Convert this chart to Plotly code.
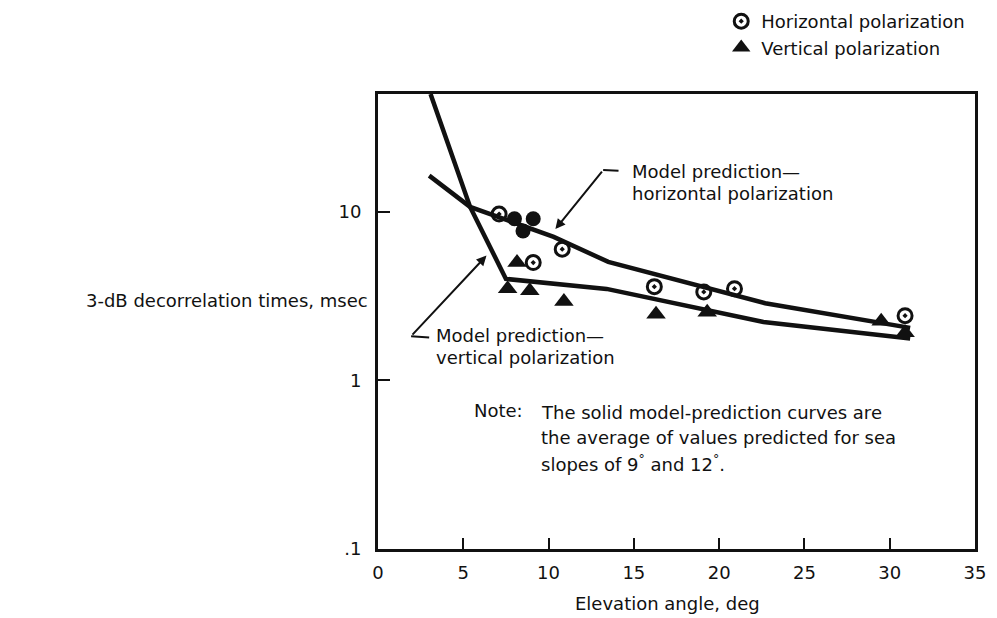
import math
import plotly.graph_objects as go

# ---------------- data ----------------
horiz_x = [7.1, 9.1, 10.8, 16.2, 19.1, 20.9, 30.9]
horiz_y = [9.7, 5.0, 6.0, 3.6, 3.35, 3.5, 2.42]
cluster_x = [8.0, 8.5, 9.1]          # overlapping horizontal-polarization points
cluster_y = [9.1, 7.7, 9.1]
vert_x = [8.15, 7.6, 8.9, 10.9, 16.3, 19.3, 29.5, 30.9]
vert_y = [5.0, 3.5, 3.4, 2.94, 2.47, 2.54, 2.24, 1.92]
model_h_x = [3.0, 5.4, 10.3, 13.5, 22.7, 31.2]
model_h_y = [16.4, 10.7, 7.1, 5.05, 2.87, 2.05]
model_v_x = [3.08, 5.4, 7.5, 13.4, 22.6, 31.2]
model_v_y = [50, 10.7, 4.0, 3.49, 2.22, 1.77]
x_tick_vals = [0, 5, 10, 15, 20, 25, 30, 35]
y_tick_vals = [0.1, 1, 10]
y_tick_text = [".1", "1", "10"]

INK = "#111111"
FONT = "DejaVu Sans"
FS = 18

fig = go.Figure()

# model curves
fig.add_trace(go.Scatter(x=model_h_x, y=model_h_y, mode="lines",
                         line=dict(color=INK, width=4.5), showlegend=False, hoverinfo="skip"))
fig.add_trace(go.Scatter(x=model_v_x, y=model_v_y, mode="lines",
                         line=dict(color=INK, width=4.5), showlegend=False, hoverinfo="skip"))

# measured points
fig.add_trace(go.Scatter(x=horiz_x, y=horiz_y, mode="markers", name="Horizontal polarization",
                         marker=dict(symbol="circle-open-dot", size=14, color=INK,
                                     line=dict(width=3, color=INK))))
fig.add_trace(go.Scatter(x=vert_x, y=vert_y, mode="markers", name="Vertical polarization",
                         marker=dict(symbol="triangle-up", size=17, color=INK)))
fig.add_trace(go.Scatter(x=cluster_x, y=cluster_y, mode="markers", showlegend=False,
                         marker=dict(symbol="circle", size=15, color=INK)))

# leader lines for callouts
fig.add_trace(go.Scatter(x=[13.2, 14.1], y=[17.7, 17.5], mode="lines",
                         line=dict(color=INK, width=2), showlegend=False, hoverinfo="skip"))
fig.add_trace(go.Scatter(x=[1.94, 3.0], y=[1.83, 1.80], mode="lines",
                         line=dict(color=INK, width=2), showlegend=False, hoverinfo="skip"))

L = math.log10
annotations = [
    # arrows
    dict(x=10.4, y=L(7.9), ax=13.2, ay=L(17.7), axref="x", ayref="y", xref="x", yref="y",
         text="", showarrow=True, arrowhead=2, arrowsize=1, arrowwidth=2, arrowcolor=INK),
    dict(x=6.36, y=L(5.5), ax=1.94, ay=L(1.83), axref="x", ayref="y", xref="x", yref="y",
         text="", showarrow=True, arrowhead=2, arrowsize=1, arrowwidth=2, arrowcolor=INK),
    # callout texts
    dict(x=14.8, y=1.24, xref="x", yref="y", text="Model prediction\u2014",
         xanchor="left", yanchor="middle", showarrow=False),
    dict(x=14.8, y=1.11, xref="x", yref="y", text="horizontal polarization",
         xanchor="left", yanchor="middle", showarrow=False),
    dict(x=3.28, y=0.267, xref="x", yref="y", text="Model prediction\u2014",
         xanchor="left", yanchor="middle", showarrow=False),
    dict(x=3.28, y=0.137, xref="x", yref="y", text="vertical polarization",
         xanchor="left", yanchor="middle", showarrow=False),
    # note
    dict(x=5.52, y=-0.18, xref="x", yref="y", text="Note:",
         xanchor="left", yanchor="middle", showarrow=False),
    dict(x=9.41, y=-0.19, xref="x", yref="y", text="The solid model-prediction curves are",
         xanchor="left", yanchor="middle", showarrow=False),
    dict(x=9.41, y=-0.34, xref="x", yref="y", text="the average of values predicted for sea",
         xanchor="left", yanchor="middle", showarrow=False),
    dict(x=9.41, y=-0.49, xref="x", yref="y", text="slopes of 9<sup>\u00b0</sup> and 12<sup>\u00b0</sup>.",
         xanchor="left", yanchor="middle", showarrow=False),
    # axis titles
    dict(x=-0.013, y=0.547, xref="paper", yref="paper", text="3-dB decorrelation times, msec",
         xanchor="right", yanchor="middle", showarrow=False),
    dict(x=0.485, y=-0.12, xref="paper", yref="paper", text="Elevation angle, deg",
         xanchor="center", yanchor="middle", showarrow=False),
]

fig.update_layout(
    width=997, height=618,
    margin=dict(l=370, r=30, t=86, b=77, autoexpand=False),
    paper_bgcolor="white", plot_bgcolor="white",
    font=dict(family=FONT, size=FS, color=INK),
    annotations=annotations,
    legend=dict(x=0.992, y=1.2, xanchor="right", yanchor="top",
                bgcolor="rgba(0,0,0,0)", font=dict(size=FS), itemwidth=30,
                tracegroupgap=0),
    showlegend=True,
)

fig.update_xaxes(range=[0, 35], tickvals=x_tick_vals, ticks="inside", ticklen=11, tickwidth=2,
                 tickcolor=INK, showline=True, linewidth=3, linecolor=INK, mirror=True,
                 showgrid=False, zeroline=False, ticklabelstandoff=5)
fig.update_yaxes(type="log", range=[-1, math.log10(50)], tickvals=y_tick_vals, ticktext=y_tick_text,
                 ticks="inside", ticklen=12, tickwidth=2, tickcolor=INK, showline=True,
                 linewidth=3, linecolor=INK, mirror=True, showgrid=False, zeroline=False,
                 ticklabelstandoff=10)

fig.write_html("out.html")
